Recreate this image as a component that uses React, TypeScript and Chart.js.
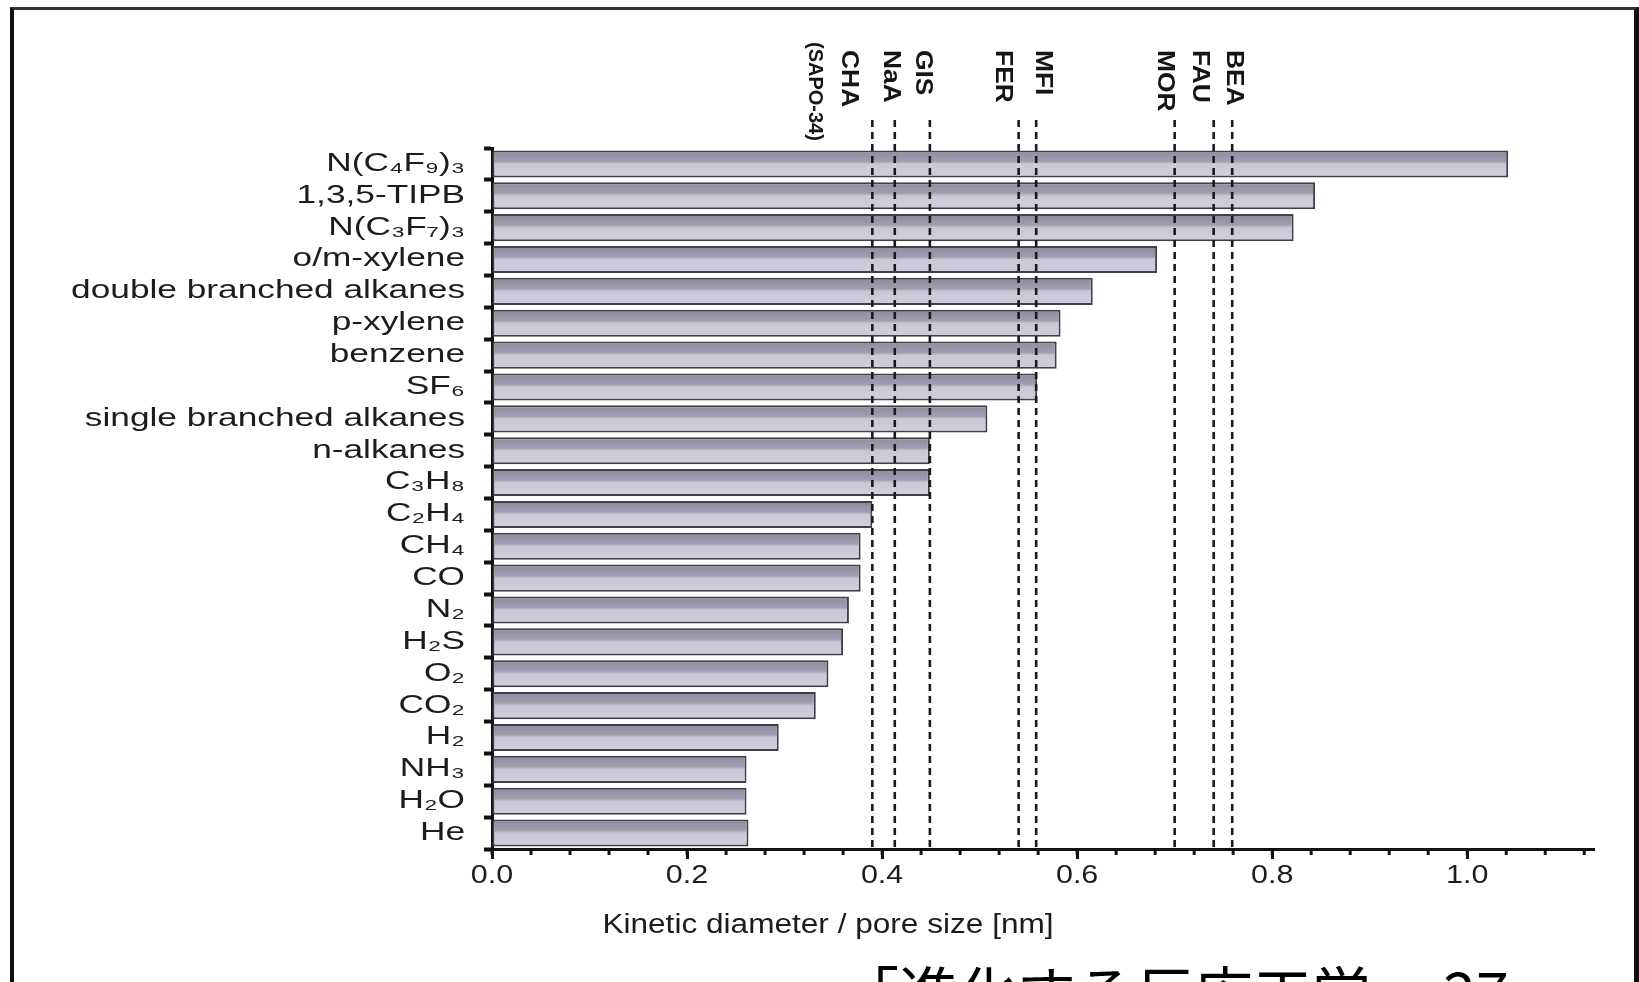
import React, { useEffect, useRef } from "react";
import { Chart, registerables } from "chart.js";

Chart.register(...registerables);

// ---------- data ----------
const molecules = [
  "N(C₄F₉)₃",
  "1,3,5-TIPB",
  "N(C₃F₇)₃",
  "o/m-xylene",
  "double branched alkanes",
  "p-xylene",
  "benzene",
  "SF₆",
  "single branched alkanes",
  "n-alkanes",
  "C₃H₈",
  "C₂H₄",
  "CH₄",
  "CO",
  "N₂",
  "H₂S",
  "O₂",
  "CO₂",
  "H₂",
  "NH₃",
  "H₂O",
  "He",
];
const kineticDiameter = [
  1.042, 0.844, 0.822, 0.682, 0.616, 0.583, 0.579, 0.559, 0.508, 0.449, 0.449,
  0.39, 0.378, 0.378, 0.366, 0.36, 0.345, 0.332, 0.294, 0.261, 0.261, 0.263,
];
const poreSizes = [0.39, 0.413, 0.449, 0.54, 0.558, 0.7, 0.74, 0.759];
const poreLabels = ["(SAPO-34)", "CHA", "NaA", "GIS", "FER", "MFI", "MOR", "FAU", "BEA"];
const poreLabelValues = [0.331, 0.366, 0.409, 0.442, 0.524, 0.565, 0.69, 0.726, 0.76];
const xMajorTicks = [0, 0.2, 0.4, 0.6, 0.8, 1.0];
const xAxisMax = 1.13;
const xMinorStep = 0.04;
const xTitle = "Kinetic diameter / pore size [nm]";
const sourceNote = "「進化する反応工学」 27";

// ---------- style ----------
const W = 1639;
const H = 982;
const SANS = '"Liberation Sans", "DejaVu Sans", Arial, sans-serif';
const BAR_PCT = 0.85;
const BAR_DARK = "#8c8c9d";
const BAR_MID = "#9e9eb0";
const BAR_LIGHT = "#c8c8d8";
const BAR_LIGHT2 = "#cfcfdd";
const TEXT = "#1c1c1c";

function barFill(context: any) {
  const chart = context.chart;
  const area = chart.chartArea;
  const yScale = chart.scales && chart.scales.y;
  if (!area || !yScale) return BAR_LIGHT;
  const c = chart.ctx as CanvasRenderingContext2D;
  const span = area.bottom - area.top;
  const g = c.createLinearGradient(0, area.top, 0, area.bottom);
  const band = span / molecules.length;
  const bh = band * BAR_PCT;
  const stop = (p: number, col: string) =>
    g.addColorStop(Math.min(1, Math.max(0, (p - area.top) / span)), col);
  for (let i = 0; i < molecules.length; i++) {
    const cy = yScale.getPixelForValue(i);
    const t = cy - bh / 2;
    stop(t, BAR_DARK);
    stop(t + bh * 0.4, BAR_MID);
    stop(t + bh * 0.5, BAR_LIGHT);
    stop(t + bh, BAR_LIGHT2);
  }
  return g;
}

function stretchedText(
  c: CanvasRenderingContext2D,
  text: string,
  x: number,
  y: number,
  font: string,
  sx: number,
  align: CanvasTextAlign,
  color: string,
  rotate = 0
) {
  c.save();
  c.translate(x, y);
  if (rotate) c.rotate(rotate);
  c.scale(sx, 1);
  c.font = font;
  c.fillStyle = color;
  c.textAlign = align;
  c.textBaseline = "middle";
  c.fillText(text, 0, 0);
  c.restore();
}

const overlayPlugin = {
  id: "overlayPlugin",
  afterDatasetsDraw(chart: any) {
    const c = chart.ctx as CanvasRenderingContext2D;
    const area = chart.chartArea;
    const xs = chart.scales.x;
    // dashed pore-size lines
    c.save();
    c.strokeStyle = "#1a1a1a";
    c.lineWidth = 2.6;
    c.setLineDash([7, 5]);
    poreSizes.forEach((v) => {
      const px = xs.getPixelForValue(v);
      c.beginPath();
      c.moveTo(px, area.top - 28);
      c.lineTo(px, area.bottom);
      c.stroke();
    });
    c.restore();
  },
  afterDraw(chart: any) {
    const c = chart.ctx as CanvasRenderingContext2D;
    const area = chart.chartArea;
    const xs = chart.scales.x;
    const ys = chart.scales.y;

    // y category labels (wide, as in the scanned figure)
    molecules.forEach((m, i) => {
      const py = ys.getPixelForValue(i);
      stretchedText(c, m, area.left - 27, py, `25px ${SANS}`, 1.41, "right", TEXT);
    });

    // minor x ticks
    c.save();
    c.strokeStyle = "#111";
    c.lineWidth = 3;
    for (let k = 0; k * xMinorStep <= xAxisMax + 1e-9; k++) {
      const v = k * xMinorStep;
      const px = xs.getPixelForValue(v);
      c.beginPath();
      c.moveTo(px, area.bottom);
      c.lineTo(px, area.bottom + 6);
      c.stroke();
    }
    c.restore();

    // x tick labels
    xMajorTicks.forEach((v) => {
      stretchedText(c, v.toFixed(1), xs.getPixelForValue(v), area.bottom + 27, `25px ${SANS}`, 1.22, "center", TEXT);
    });

    // x axis title
    stretchedText(c, xTitle, area.left + 336, area.bottom + 77, `27px ${SANS}`, 1.17, "center", TEXT);

    // pore labels (rotated, reading top to bottom)
    poreLabels.forEach((lab, i) => {
      const px = xs.getPixelForValue(poreLabelValues[i]);
      const isLong = lab.length > 5;
      stretchedText(
        c,
        lab,
        px,
        isLong ? area.top - 106 : area.top - 98,
        `bold ${isLong ? 20 : 24}px ${SANS}`,
        isLong ? 1.0 : 1.1,
        "left",
        "#151515",
        Math.PI / 2
      );
    });
  },
};

export default function App() {
  const canvasRef = useRef<HTMLCanvasElement | null>(null);

  useEffect(() => {
    const canvas = canvasRef.current;
    if (!canvas) return;
    const chart = new Chart(canvas, {
      type: "bar",
      data: {
        labels: molecules,
        datasets: [
          {
            data: kineticDiameter,
            backgroundColor: barFill as any,
            borderColor: "#40404a",
            borderWidth: 2,
            borderSkipped: false,
            barPercentage: BAR_PCT,
            categoryPercentage: 1,
          },
        ],
      },
      options: {
        indexAxis: "y",
        animation: false,
        responsive: false,
        devicePixelRatio: 1,
        layout: { padding: { left: 0, top: 148, right: 45, bottom: 0 } },
        plugins: {
          legend: { display: false },
          tooltip: { enabled: false },
          title: { display: false },
        },
        scales: {
          x: {
            type: "linear",
            min: 0,
            max: xAxisMax,
            z: 1,
            afterFit: (s: any) => {
              s.height = 133;
            },
            afterBuildTicks: (s: any) => {
              s.ticks = xMajorTicks.map((v) => ({ value: v }));
            },
            ticks: {
              display: false,
              autoSkip: false,
            },
            grid: {
              display: true,
              drawOnChartArea: false,
              drawTicks: true,
              tickLength: 10,
              tickWidth: 3,
              tickColor: "#111",
            },
            border: { display: true, color: "#111", width: 3 },
          },
          y: {
            type: "category",
            z: 1,
            offset: true,
            afterFit: (s: any) => {
              s.width = 492;
            },
            ticks: { display: false },
            grid: {
              display: true,
              offset: true,
              drawOnChartArea: false,
              drawTicks: true,
              tickLength: 8,
              tickWidth: 4,
              tickColor: "#111",
            },
            border: { display: true, color: "#111", width: 3 },
          },
        },
      },
      plugins: [overlayPlugin],
    });
    return () => chart.destroy();
  }, []);

  return (
    <div
      style={{
        position: "fixed",
        left: 0,
        top: 0,
        width: W,
        height: H,
        overflow: "hidden",
        background: "#fff",
      }}
    >
      <canvas
        ref={canvasRef}
        width={W}
        height={H}
        style={{ position: "absolute", left: 0, top: 0, width: W, height: H }}
      />
      <div
        style={{
          position: "absolute",
          left: 10,
          top: 7,
          width: W - 10,
          height: 1100,
          boxSizing: "border-box",
          borderLeft: "4px solid #111",
          borderTop: "3px solid #333",
          borderRight: "5px solid #111",
          pointerEvents: "none",
        }}
      />
      <div
        style={{
          position: "absolute",
          left: 840,
          top: 961,
          fontSize: 59,
          lineHeight: 1,
          whiteSpace: "nowrap",
          color: "#000",
          fontFamily: '"Noto Sans CJK JP", "Liberation Serif", serif',
        }}
      >
        {sourceNote}
      </div>
    </div>
  );
}
